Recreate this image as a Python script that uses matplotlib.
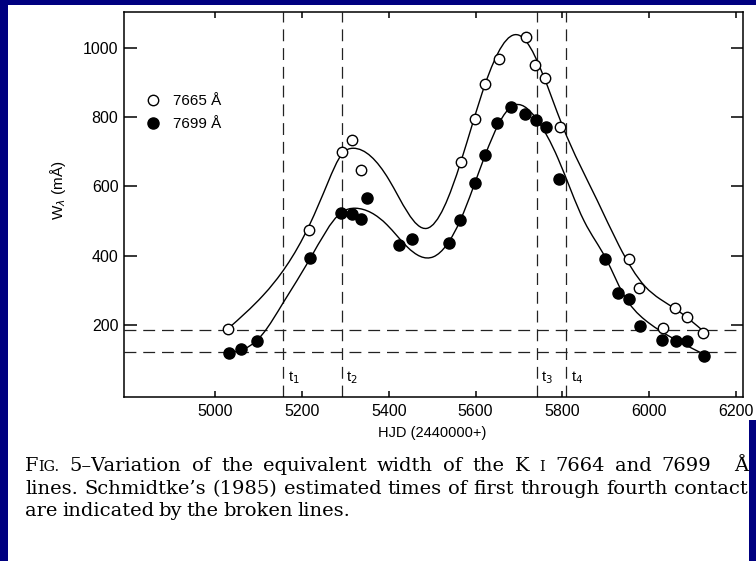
import numpy as np
import matplotlib
matplotlib.use('Agg')
import matplotlib.pyplot as plt
from matplotlib.path import Path
from matplotlib.patches import PathPatch, Rectangle

# K I 7665 A equivalent widths (open circles)
hjd_7665 = [5030, 5217, 5292, 5316, 5336, 5566, 5598, 5622, 5654, 5716,
            5737, 5760, 5795, 5954, 5977, 6031, 6060, 6088, 6125]
w_7665 = [190, 474, 698, 734, 647, 671, 793, 895, 967, 1032,
          950, 912, 772, 390, 308, 192, 250, 222, 178]

# K I 7699 A equivalent widths (filled circles)
hjd_7699 = [5033, 5059, 5097, 5219, 5290, 5315, 5336, 5350, 5424, 5453,
            5539, 5565, 5598, 5622, 5650, 5682, 5714, 5739, 5762, 5793,
            5899, 5929, 5954, 5978, 6029, 6062, 6088, 6127]
w_7699 = [120, 130, 155, 392, 524, 520, 506, 566, 431, 447,
          436, 503, 611, 690, 784, 830, 809, 791, 770, 620,
          390, 292, 274, 198, 157, 155, 155, 112]

# hand-drawn smooth curves, knots
fit_hjd_7665 = [5030, 5110, 5217, 5260, 5292, 5318, 5400, 5488, 5566, 5622,
                5700, 5800, 5880, 5930, 5990, 6025, 6070, 6126]
fit_w_7665 = [190, 285, 488, 612, 693, 710, 620, 479, 671, 895,
              1036, 775, 560, 430, 312, 275, 238, 181]

fit_hjd_7699 = [5033, 5070, 5110, 5157, 5219, 5290, 5323, 5396, 5442, 5503,
                5565, 5622, 5685, 5740, 5790, 5850, 5901, 5940, 5990, 6050,
                6129]
fit_w_7699 = [120, 133, 175, 265, 392, 524, 537, 489, 426, 397,
              503, 690, 832, 795, 680, 500, 390, 290, 215, 165,
              114]

# Schmidtke (1985) contact times and reference levels
contact_hjd = [5157, 5292, 5741, 5809]
contact_names = ['1', '2', '3', '4']
level_w = [185, 121]

xticks = [5000, 5200, 5400, 5600, 5800, 6000, 6200]
yticks = [200, 400, 600, 800, 1000]

W, H = 756, 561
SANS = 'Liberation Sans'
SERIF = 'DejaVu Serif'


def spline_path(xs, ys):
    # natural cubic spline through the knots, drawn as bezier segments
    x = np.asarray(xs, float)
    y = np.asarray(ys, float)
    n = len(x)
    h = np.diff(x)
    A = np.zeros((n, n))
    b = np.zeros(n)
    A[0, 0] = A[-1, -1] = 1
    for i in range(1, n - 1):
        A[i, i - 1] = h[i - 1]
        A[i, i] = 2 * (h[i - 1] + h[i])
        A[i, i + 1] = h[i]
        b[i] = 6 * ((y[i + 1] - y[i]) / h[i] - (y[i] - y[i - 1]) / h[i - 1])
    M = np.linalg.solve(A, b)
    d = np.empty(n)
    d[:-1] = (y[1:] - y[:-1]) / h - h * (2 * M[:-1] + M[1:]) / 6
    d[-1] = (y[-1] - y[-2]) / h[-1] + h[-1] * (M[-2] + 2 * M[-1]) / 6
    verts = [(x[0], y[0])]
    codes = [Path.MOVETO]
    for i in range(n - 1):
        verts += [(x[i] + h[i] / 3, y[i] + d[i] * h[i] / 3),
                  (x[i + 1] - h[i] / 3, y[i + 1] - d[i + 1] * h[i] / 3),
                  (x[i + 1], y[i + 1])]
        codes += [Path.CURVE4] * 3
    return Path(verts, codes)


fig = plt.figure(figsize=(W / 100, H / 100), dpi=100)
fig.patch.set_facecolor('#000080')
fig.patches.append(Rectangle((8 / W, 1 - 420 / H), 1 - 8 / W, 415 / H,
                             transform=fig.transFigure, facecolor='white',
                             edgecolor='none', zorder=-1))
fig.patches.append(Rectangle((8 / W, 0), 741 / W, 1 - 419 / H,
                             transform=fig.transFigure, facecolor='white',
                             edgecolor='none', zorder=-1))

ax = fig.add_axes([124 / W, 1 - 397 / H, 619 / W, 385 / H])
ax.set_xlim(4790, 6216)
ax.set_ylim(-7.5, 1103)

# broken lines
for xc, name in zip(contact_hjd, contact_names):
    ax.axvline(xc, color='#222222', lw=0.9, dashes=(9.5, 5.5), zorder=1)
    ax.text(xc + 10, 48, 't$_{%s}$' % name, fontsize=10.5, family=SANS,
            ha='left', va='center')
for yl in level_w:
    ax.axhline(yl, color='#222222', lw=0.9, dashes=(9.5, 5.5), zorder=1)

# fitted curves
for xs, ys in [(fit_hjd_7665, fit_w_7665), (fit_hjd_7699, fit_w_7699)]:
    ax.add_patch(PathPatch(spline_path(xs, ys), facecolor='none',
                           edgecolor='black', lw=1.0, zorder=2))

ax.plot(hjd_7665, w_7665, 'o', ms=7.5, mfc='white', mec='black', mew=1.0,
        zorder=3, label='7665 Å')
ax.plot(hjd_7699, w_7699, 'o', ms=8, mfc='black', mec='black',
        zorder=3, label='7699 Å')

leg = ax.legend(loc='upper left', bbox_to_anchor=(0.0346, 0.787),
                frameon=False, handlelength=1.0, handletextpad=0.8,
                borderpad=0, borderaxespad=0, labelspacing=0.6,
                prop={'family': SANS, 'size': 11})

ax.set_xticks(xticks)
ax.set_yticks(yticks)
ax.tick_params(axis='both', direction='in', top=True, right=True,
               width=1.1, labelsize=11.5, pad=5)
ax.tick_params(axis='y', length=9, pad=4)
ax.tick_params(axis='x', length=4.5)
for lab in ax.get_xticklabels() + ax.get_yticklabels():
    lab.set_family(SANS)
for sp in ax.spines.values():
    sp.set_linewidth(1.1)

ax.text(-0.1066, 0.5377, 'W$_{\\lambda}$ (mÅ)', transform=ax.transAxes,
        rotation=90, ha='center', va='center', fontsize=11, family=SANS)
ax.text(0.4976, -0.0935, 'HJD (2440000+)', transform=ax.transAxes,
        ha='center', va='center', fontsize=10.5, family=SANS)

# caption, justified, with small capitals
renderer = fig.canvas.get_renderer()
cap = 14.0
small = cap * 0.74


def put_line(x0, x1, y_px, words, justify=True):
    # words: list of (pieces, gap weight before the word); pieces are glued
    placed = []
    total = 0
    for pieces, weight in words:
        group = []
        for txt, size in pieces:
            t = fig.text(0, 1 - y_px / H, txt, fontsize=size, family=SERIF,
                         ha='left', va='baseline')
            w = t.get_window_extent(renderer).width
            group.append((t, w))
            total += w
        placed.append((group, weight))
    weights = sum(wt for _, wt in placed[1:])
    gap = (x1 - x0 - total) / weights if justify else cap * 0.33
    x = x0
    for k, (group, weight) in enumerate(placed):
        if k:
            x += gap * weight
        for t, w in group:
            t.set_x(x / W)
            x += w


def words_of(text, size=cap):
    return [([(wd, size)], 1) for wd in text.split()]


line1 = ([([('F', cap), ('IG.', small)], 1)]
         + words_of('5–Variation of the equivalent width of the K')
         + [([('I', small)], 1)]
         + words_of('7664 and 7699')
         + [([('Å', cap)], 2.2)])
put_line(25, 748, 471, line1)
put_line(25, 748, 494, words_of('lines. Schmidtke’s (1985) estimated times of first through fourth contact'))
put_line(25, 748, 516, words_of('are indicated by the broken lines.'), justify=False)

fig.savefig('out.png', dpi=100, facecolor=fig.get_facecolor())
